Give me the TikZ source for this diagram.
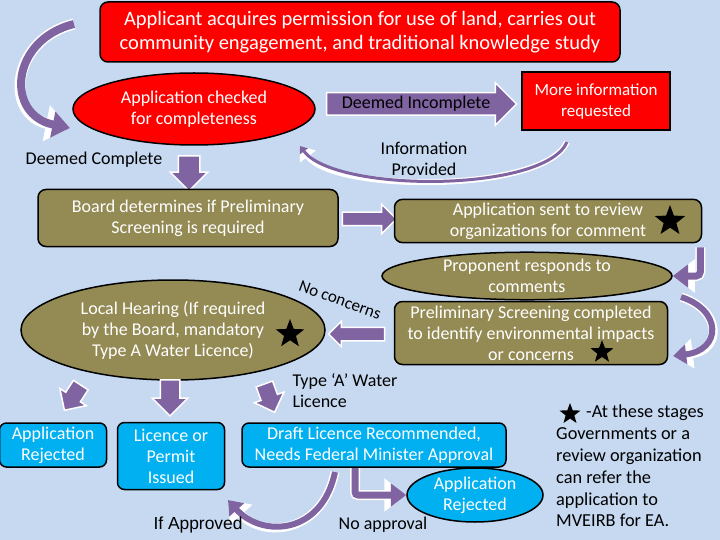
\documentclass[tikz,border=0pt]{standalone}
\usepackage{fontspec}
\setmainfont{Carlito}
\newfontfamily\arialfont{Liberation Sans}
\usetikzlibrary{shapes.geometric,shapes.arrows,arrows.meta}
\definecolor{bgblue}{RGB}{198,217,241}
\definecolor{boxred}{RGB}{255,0,0}
\definecolor{boxolive}{RGB}{148,138,84}
\definecolor{boxcyan}{RGB}{0,176,240}
\definecolor{flowpurple}{RGB}{128,100,162}
\newcommand{\txt}{\fontsize{18}{21}\selectfont}
\tikzset{
  redbox/.style={draw=black, line width=1.5pt, fill=boxred, text=white, align=center, font=\txt},
  olivebox/.style={draw=black, line width=1.5pt, fill=boxolive, text=white, align=center, font=\txt},
  cyanbox/.style={draw=black, line width=1.5pt, fill=boxcyan, text=white, align=center, font=\txt},
  blockarrow/.style={single arrow, fill=flowpurple, draw=white, line width=1.5pt,
    inner xsep=0pt, minimum width=0pt},
  curvearrow/.style={draw=flowpurple, line width=#1, -{Triangle[length=0pt 2.2, width=0pt 3.2]},
    preaction={draw=white, line width=#1+3pt}},
  label/.style={align=center, font=\txt},
  stage/.style={star, star points=5, star point ratio=2.4, fill=black, inner sep=0pt}
}
\begin{document}
\begin{tikzpicture}[x=1pt, y=-1pt]
  \useasboundingbox (0,0) rectangle (720,540);
  \fill[bgblue] (0,0) rectangle (720,540);
  % top row
  \node[redbox, rounded corners=8pt, minimum width=520pt, minimum height=60pt,
    font=\fontsize{20.5}{24}\selectfont] (acquire) at (360,32)
    {Applicant acquires permission for use of land, carries out\\community engagement, and traditional knowledge study};
  \node[redbox, ellipse, minimum width=242pt, minimum height=72pt, inner sep=0pt] (check) at (194,109)
    {Application checked\\for completeness};
  \node[blockarrow, inner ysep=3pt, text height=12pt, text depth=3pt, single arrow head extend=10pt,
    minimum height=190pt, font=\txt, text=black] (incomplete) at (416,104) {Deemed Incomplete};
  \node[redbox, minimum width=148pt, minimum height=58pt, font=\fontsize{17}{21}\selectfont] (moreinfo) at (596,101)
    {More information\\requested};
  \coordinate (infostart) at (567,142);
  \coordinate (infoend) at (300,146);
  \draw[curvearrow=3pt] (infostart) .. controls (545,193) and (335,193) .. (infoend);
  \node[label] (provided) at (424,159) {Information\\Provided};
  \coordinate (loopstart) at (74,24);
  \coordinate (loopend) at (70,128);
  \draw[curvearrow=8pt] (loopstart) .. controls (10,40) and (5,115) .. (loopend);
  \node[label] (complete) at (94,160) {Deemed Complete};
  \node[blockarrow, inner ysep=10pt, single arrow head extend=8pt, minimum height=35pt, rotate=-90]
    (down1) at (189,168) {};
  % screening
  \node[olivebox, rounded corners=8pt, minimum width=300pt, minimum height=57pt] (board) at (188,218)
    {Board determines if Preliminary\\Screening is required};
  \node[blockarrow, inner ysep=6pt, single arrow head extend=8pt, minimum height=54pt]
    (right1) at (366,219) {};
  \node[olivebox, rounded corners=8pt, minimum width=307pt, minimum height=42pt] (sent) at (548,221)
    {Application sent to review\\organizations for comment};
  \node[stage, minimum size=32pt] (star1) at (670,221) {};
  \node[olivebox, ellipse, minimum width=290pt, minimum height=44pt, inner sep=0pt] (respond) at (527,276)
    {Proponent responds to\\comments};
  \draw[curvearrow=7pt, rounded corners=4pt] (sent.south east) ++(-2,4) |- (respond.east);
  \node[olivebox, rounded corners=8pt, minimum width=273pt, minimum height=63pt] (prelim) at (531,333)
    {Preliminary Screening completed\\to identify environmental impacts\\or concerns};
  \node[stage, minimum size=24pt] (star2) at (602,352) {};
  \coordinate (arcstart) at (681,297);
  \coordinate (arcend) at (673,356);
  \draw[curvearrow=6pt] (arcstart) .. controls (722,310) and (722,350) .. (arcend);
  \node[blockarrow, inner ysep=6pt, single arrow head extend=6pt, minimum height=56pt, rotate=180]
    (left1) at (360,334) {};
  \node[font=\fontsize{17}{18}\selectfont, rotate=-20, inner sep=0pt] (noconcern) at (340,300) {No concerns};
  \node[olivebox, ellipse, minimum width=304pt, minimum height=100pt, inner sep=0pt] (hearing) at (173,330)
    {Local Hearing (If required\\by the Board, mandatory\\Type A Water Licence)};
  \node[stage, minimum size=30pt] (star3) at (290,334) {};
  % outcomes
  \node[blockarrow, inner ysep=8pt, single arrow head extend=7pt, minimum height=30pt, rotate=-123]
    (down2) at (75,394) {};
  \node[blockarrow, inner ysep=9pt, single arrow head extend=8pt, minimum height=36pt, rotate=-90]
    (down3) at (170,393) {};
  \node[blockarrow, inner ysep=8pt, single arrow head extend=7pt, minimum height=30pt, rotate=-70]
    (down4) at (268,394) {};
  \node[label, align=left, anchor=west] (typea) at (289,391) {Type ‘A’ Water\\Licence};
  \node[cyanbox, rounded corners=7pt, minimum width=107pt, minimum height=44pt] (reject1) at (53,445)
    {Application\\Rejected};
  \node[cyanbox, rounded corners=7pt, minimum width=107pt, minimum height=67pt] (issued) at (171,456)
    {Licence or\\Permit\\Issued};
  \node[cyanbox, rounded corners=7pt, minimum width=264pt, minimum height=44pt] (draft) at (374,445)
    {Draft Licence Recommended,\\Needs Federal Minister Approval};
  \node[cyanbox, ellipse, minimum width=136pt, minimum height=54pt, inner sep=0pt] (reject2) at (475,495)
    {Application\\Rejected};
  \coordinate (nostart) at (355,468);
  \draw[curvearrow=7pt, rounded corners=3pt] (nostart) |- (reject2.west);
  \coordinate (okstart) at (335,472);
  \coordinate (okend) at (228,500);
  \draw[curvearrow=6pt] (okstart) .. controls (322,535) and (262,538) .. (okend);
  \node[font=\arialfont\fontsize{17.4}{18}\selectfont] (approved) at (198,525) {If Approved};
  \node[label] (noapproval) at (383,525) {No approval};
  % legend
  \node[stage, minimum size=22pt] (star4) at (570,414) {};
  \node[align=left, anchor=north west, font=\fontsize{18.3}{21.8}\selectfont, inner sep=0pt] (legend) at (556,405)
    {\hspace*{30pt}-At these stages\\Governments or a\\review organization\\can refer the\\application to\\MVEIRB for EA.};
\end{tikzpicture}
\end{document}
